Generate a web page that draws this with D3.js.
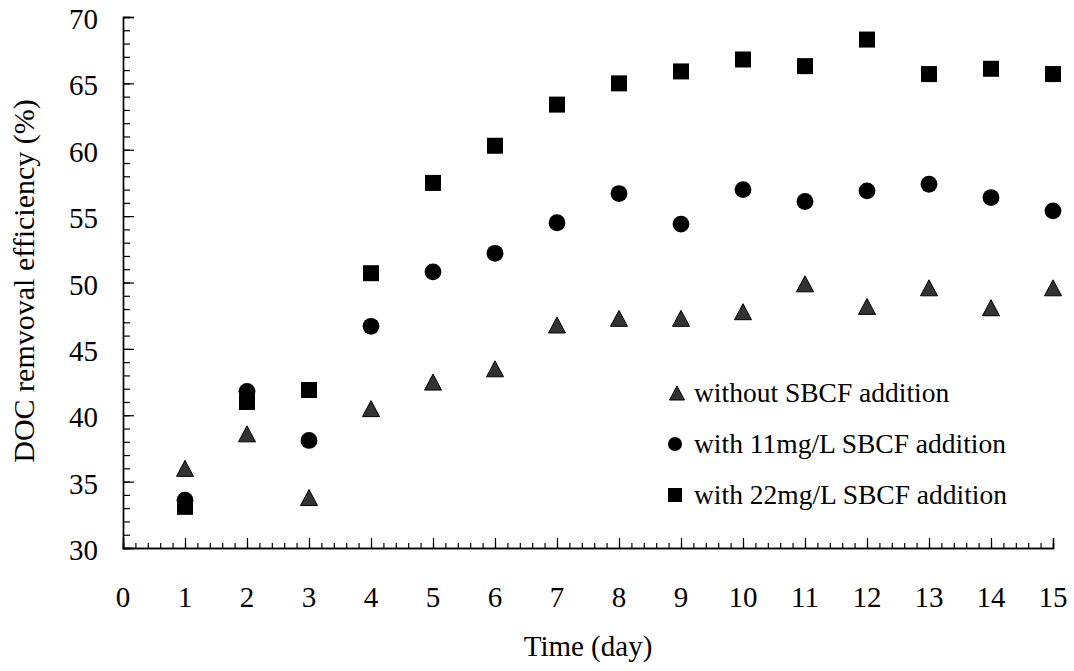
<!DOCTYPE html>
<html>
<head>
<meta charset="utf-8">
<script src="https://cdn.jsdelivr.net/npm/d3@7"></script>
<style>
  body { margin: 0; background: #fff; }
  text { font-family: "Liberation Serif", "Times New Roman", serif; fill: #000; }
</style>
</head>
<body>
<svg id="chart" width="1074" height="671"></svg>
<script>
// data
const days = [1, 2, 3, 4, 5, 6, 7, 8, 9, 10, 11, 12, 13, 14, 15];
const withoutSBCF = [36.0, 38.6, 33.8, 40.5, 42.5, 43.5, 46.8, 47.3, 47.3, 47.8, 49.9, 48.2, 49.6, 48.1, 49.6];
const with11 = [33.6, 41.8, 38.1, 46.7, 50.8, 52.2, 54.5, 56.7, 54.4, 57.0, 56.1, 56.9, 57.4, 56.4, 55.4];
const with22 = [33.1, 41.0, 41.9, 50.7, 57.5, 60.3, 63.4, 65.0, 65.9, 66.8, 66.3, 68.3, 65.7, 66.1, 65.7];
const xTicks = [0, 1, 2, 3, 4, 5, 6, 7, 8, 9, 10, 11, 12, 13, 14, 15];
const yTicks = [30, 35, 40, 45, 50, 55, 60, 65, 70];
const legendLabels = ["without SBCF addition", "with 11mg/L SBCF addition", "with 22mg/L SBCF addition"];

const svg = d3.select("#chart");
const plotL = 123, plotR = 1053, plotT = 17, plotB = 548;

const x = d3.scaleLinear().domain([0, 15]).range([plotL, plotR]);
const y = d3.scaleLinear().domain([30, 70]).range([plotB, plotT]);

// x axis: major ticks every day, minor every 0.2, pointing up
const xAxis = svg.append("g").attr("transform", `translate(0,${plotB})`);
xAxis.call(d3.axisTop(x).tickValues(d3.range(0, 15.001, 0.2)).tickSize(5).tickFormat(""));
xAxis.append("g").call(d3.axisTop(x).tickValues(xTicks).tickSize(10).tickFormat(""));
xAxis.selectAll("path.domain").attr("stroke", "#000").attr("stroke-width", 1.4);
xAxis.selectAll("line").attr("stroke", "#000").attr("stroke-width", 1.2);
svg.selectAll(".xlab").data(xTicks).join("text")
  .attr("x", d => x(d)).attr("y", plotB + 59)
  .attr("text-anchor", "middle").attr("font-size", 29).text(d => d);

// y axis: major every 5, minor every 1, pointing right
const yAxis = svg.append("g").attr("transform", `translate(${plotL},0)`);
yAxis.call(d3.axisRight(y).tickValues(d3.range(30, 70.001, 1)).tickSize(7).tickFormat(""));
yAxis.append("g").call(d3.axisRight(y).tickValues(yTicks).tickSize(11).tickFormat(""));
yAxis.selectAll("path.domain").attr("stroke", "#000").attr("stroke-width", 1.4);
yAxis.selectAll("line").attr("stroke", "#000").attr("stroke-width", 1.2);
svg.selectAll(".ylab").data(yTicks).join("text")
  .attr("x", plotL - 25).attr("y", d => y(d) + 12)
  .attr("text-anchor", "end").attr("font-size", 29).text(d => d);

// axis titles
svg.append("text").attr("x", (plotL + plotR) / 2).attr("y", 656)
  .attr("text-anchor", "middle").attr("font-size", 29).text("Time (day)");
svg.append("text").attr("transform", "translate(34,281) rotate(-90)")
  .attr("text-anchor", "middle").attr("font-size", 30).text("DOC remvoval efficiency (%)");

// marker helpers
function triangle(w, h) {
  return `M0,${-h / 2}L${w / 2},${h / 2}L${-w / 2},${h / 2}Z`;
}

// triangles
svg.append("g").selectAll("path").data(days).join("path")
  .attr("d", triangle(17, 16))
  .attr("transform", (d, i) => `translate(${x(d)},${y(withoutSBCF[i])})`)
  .attr("fill", "#333").attr("stroke", "#000").attr("stroke-width", 1);

// circles
svg.append("g").selectAll("circle").data(days).join("circle")
  .attr("cx", d => x(d)).attr("cy", (d, i) => y(with11[i])).attr("r", 8.4)
  .attr("fill", "#000");

// squares
svg.append("g").selectAll("rect").data(days).join("rect")
  .attr("x", d => x(d) - 8).attr("y", (d, i) => y(with22[i]) - 8)
  .attr("width", 16).attr("height", 16).attr("fill", "#000");

// legend
const legend = svg.append("g");
const rowY = [402, 453, 504];
legend.append("path").attr("d", triangle(15, 14))
  .attr("transform", `translate(677,${rowY[0] - 9})`)
  .attr("fill", "#333").attr("stroke", "#000").attr("stroke-width", 1);
legend.append("circle").attr("cx", 675).attr("cy", rowY[1] - 9).attr("r", 7).attr("fill", "#000");
legend.append("rect").attr("x", 668).attr("y", rowY[2] - 16).attr("width", 14).attr("height", 14).attr("fill", "#000");
legend.selectAll("text").data(legendLabels).join("text")
  .attr("x", 694).attr("y", (d, i) => rowY[i])
  .attr("font-size", 27.5).text(d => d);
</script>
</body>
</html>
